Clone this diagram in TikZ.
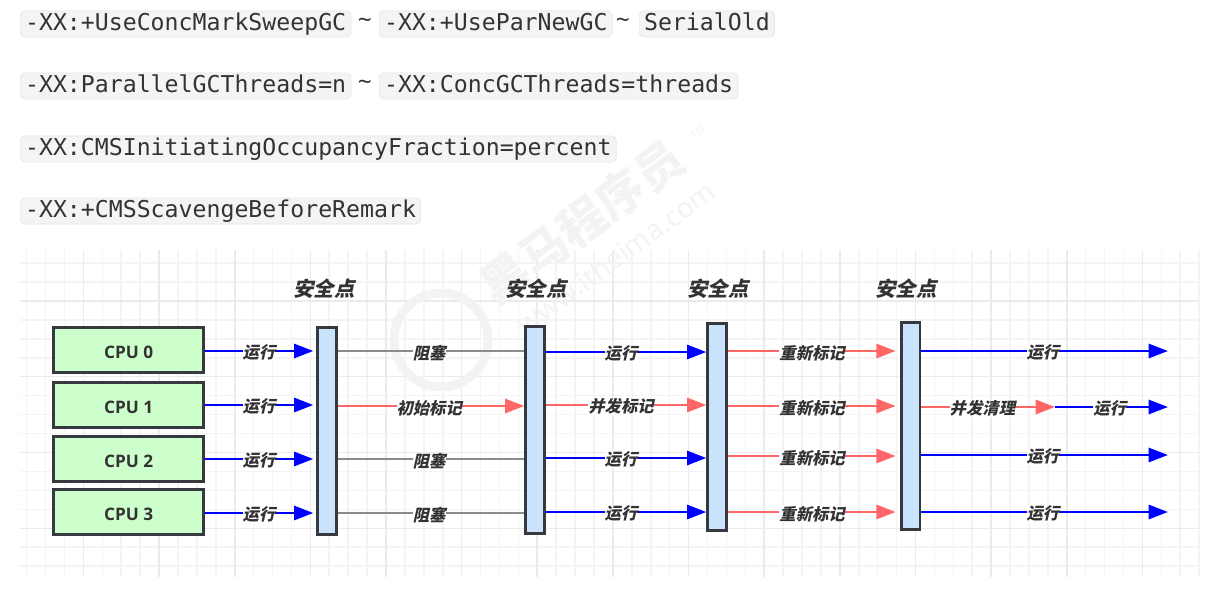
\documentclass[tikz,border=0pt]{standalone}
\usepackage{fontspec}
\usetikzlibrary{arrows.meta}
\setmonofont{DejaVu Sans Mono}
\newfontfamily\cjkfont[FakeSlant=0.22]{Noto Sans CJK SC}
\newfontfamily\markfont{Noto Sans CJK SC}
\newfontfamily\cpufont{Open Sans}
\newfontfamily\tildefont{Noto Sans}
\definecolor{codefill}{HTML}{F3F4F4}
\definecolor{codeline}{HTML}{E4E7EA}
\definecolor{codetext}{HTML}{333333}
\definecolor{gridminor}{HTML}{F4F4F4}
\definecolor{gridmajor}{HTML}{EBEBEB}
\definecolor{cpufill}{HTML}{CCFFCC}
\definecolor{barfill}{HTML}{C9E3FD}
\definecolor{boxline}{HTML}{36393D}
\definecolor{markline}{HTML}{FF6666}
\definecolor{stopline}{HTML}{8C8C8C}
\definecolor{wmark}{HTML}{F3F3F3}
\tikzset{
	codebox/.style={draw=codeline, fill=codefill, rounded corners=2.5pt, anchor=west, text=codetext, inner xsep=2.7pt, inner ysep=0.9pt, text height=10pt, text depth=3pt, font=\ttfamily\fontsize{13.2}{15}\selectfont},
	sep/.style={text=codetext, font=\tildefont\fontsize{14}{16}\selectfont},
	cpubox/.style={draw=boxline, fill=cpufill, line width=1.6pt, minimum width=85.5pt, minimum height=25.5pt, inner sep=0pt, text height=9.5pt, text depth=0pt, text=codetext, font=\cpufont\bfseries\fontsize{9.8}{11}\selectfont},
	barbox/.style={draw=boxline, fill=barfill, line width=1.6pt, minimum width=10.5pt, minimum height=118pt, inner sep=0pt},
	pointname/.style={text=codetext, font=\cjkfont\bfseries\fontsize{11.6}{13}\selectfont},
	lab/.style={fill=white, inner sep=0pt, text=codetext, xshift=-1pt, yshift=-1pt, font=\cjkfont\bfseries\fontsize{9.3}{11}\selectfont},
	run/.style={draw=blue, line width=1.6pt, -{Triangle[length=11pt,width=8pt]}},
	remark/.style={draw=markline, line width=1.6pt, -{Triangle[length=11pt,width=8pt]}},
	stopped/.style={draw=stopline, line width=1.6pt},
	gridthin/.style={draw=gridminor, line width=0.9pt},
	gridthick/.style={draw=gridmajor, line width=0.9pt},
}
\begin{document}
\begin{tikzpicture}[x=0.02cm, y=-0.02cm]
	\useasboundingbox (0,0) rectangle (1216,588);
	% options
	\node[codebox] (opt1) at (20,24) {-XX:+UseConcMarkSweepGC};
	\node[sep] (sep1) at (365,23) {\textasciitilde};
	\node[codebox] (opt2) at (379,24) {-XX:+UseParNewGC};
	\node[sep] (sep2) at (623,23) {\textasciitilde};
	\node[codebox] (opt3) at (639,24) {SerialOld};
	\node[codebox] (opt4) at (20,86) {-XX:ParallelGCThreads=n};
	\node[sep] (sep3) at (365,85) {\textasciitilde};
	\node[codebox] (opt5) at (379,86) {-XX:ConcGCThreads=threads};
	\node[codebox] (opt6) at (20,149) {-XX:CMSInitiatingOccupancyFraction=percent};
	\node[codebox] (opt7) at (20,211) {-XX:+CMSScavengeBeforeRemark};
	% grid
	\foreach \i in {0,...,62}
		\draw[gridthin] ({26.7+18.91*\i},250) -- ({26.7+18.91*\i},577);
	\foreach \i in {0,...,16}
		\draw[gridthin] (20,{263+18.95*\i}) -- (1199,{263+18.95*\i});
	\foreach \i in {3,7,...,59}
		\draw[gridthick] ({26.7+18.91*\i},250) -- ({26.7+18.91*\i},577);
	\foreach \i in {2,6,10,14}
		\draw[gridthick] (20,{263+18.95*\i}) -- (1199,{263+18.95*\i});
	% watermark
	\draw[wmark, line width=5pt] (441,340) circle (47);
	\node[rotate=36, text=wmark, font=\markfont\bfseries\fontsize{27}{29}\selectfont] (wm1) at (582,222) {黑马程序员};
	\node[rotate=36, text=wmark, font=\markfont\fontsize{6}{7}\selectfont] (wm2) at (698,133) {TM};
	\node[rotate=36, text=wmark, font=\tildefont\fontsize{16}{18}\selectfont] (wm3) at (616,257) {www.itheima.com};
	% cpu and safepoints
	\node[cpubox] (cpu0) at (128.7,350) {CPU 0};
	\node[cpubox] (cpu1) at (128.7,404.7) {CPU 1};
	\node[cpubox] (cpu2) at (128.7,459) {CPU 2};
	\node[cpubox] (cpu3) at (128.7,512.3) {CPU 3};
	\node[barbox] (bar0) at (327,431) {};
	\node[barbox] (bar1) at (535,430) {};
	\node[barbox] (bar2) at (717,427) {};
	\node[barbox] (bar3) at (910.7,426) {};
	\node[pointname] (name0) at (324,289) {安全点};
	\node[pointname] (name1) at (536,289) {安全点};
	\node[pointname] (name2) at (718,289) {安全点};
	\node[pointname] (name3) at (906,289) {安全点};
	% heights of the rows
	\coordinate (a0) at (0,351); \coordinate (a1) at (0,405); \coordinate (a2) at (0,459); \coordinate (a3) at (0,513);
	\coordinate (b0) at (0,351); \coordinate (b1) at (0,406); \coordinate (b2) at (0,459); \coordinate (b3) at (0,513);
	\coordinate (c0) at (0,352); \coordinate (c1) at (0,405); \coordinate (c2) at (0,458); \coordinate (c3) at (0,512);
	\coordinate (d0) at (0,351); \coordinate (d1) at (0,406); \coordinate (d2) at (0,456); \coordinate (d3) at (0,512);
	% free ends
	\coordinate (end0) at (1168,351);
	\coordinate (end1) at (1168,407);
	\coordinate (end2) at (1168,455);
	\coordinate (end3) at (1168,512);
	\coordinate (mid1) at (1055,407);
	% first stage
	\draw[run, shorten >=1.7pt] (cpu0.east |- a0) -- (bar0.west |- a0) node[lab, midway] (l00) {运行};
	\draw[run, shorten >=1.7pt] (cpu1.east |- a1) -- (bar0.west |- a1) node[lab, midway] (l01) {运行};
	\draw[run, shorten >=1.7pt] (cpu2.east |- a2) -- (bar0.west |- a2) node[lab, midway] (l02) {运行};
	\draw[run, shorten >=1.7pt] (cpu3.east |- a3) -- (bar0.west |- a3) node[lab, midway] (l03) {运行};
	% second stage
	\draw[stopped] (bar0.east |- b0) -- (bar1.west |- b0) node[lab, midway] (l10) {阻塞};
	\draw[remark] (bar0.east |- b1) -- (bar1.west |- b1) node[lab, midway] (l11) {初始标记};
	\draw[stopped] (bar0.east |- b2) -- (bar1.west |- b2) node[lab, midway] (l12) {阻塞};
	\draw[stopped] (bar0.east |- b3) -- (bar1.west |- b3) node[lab, midway] (l13) {阻塞};
	% third stage
	\draw[run] (bar1.east |- c0) -- (bar2.west |- c0) node[lab, pos=.48] (l20) {运行};
	\draw[remark] (bar1.east |- c1) -- (bar2.west |- c1) node[lab, pos=.48] (l21) {并发标记};
	\draw[run] (bar1.east |- c2) -- (bar2.west |- c2) node[lab, pos=.48] (l22) {运行};
	\draw[run] (bar1.east |- c3) -- (bar2.west |- c3) node[lab, pos=.48] (l23) {运行};
	% fourth stage
	\draw[remark, shorten >=2.5pt] (bar2.east |- d0) -- (bar3.west |- d0) node[lab, midway] (l30) {重新标记};
	\draw[remark, shorten >=2.5pt] (bar2.east |- d1) -- (bar3.west |- d1) node[lab, midway] (l31) {重新标记};
	\draw[remark, shorten >=2.5pt] (bar2.east |- d2) -- (bar3.west |- d2) node[lab, midway] (l32) {重新标记};
	\draw[remark, shorten >=2.5pt] (bar2.east |- d3) -- (bar3.west |- d3) node[lab, midway] (l33) {重新标记};
	% last stage
	\draw[run] (bar3.east |- end0) -- (end0) node[lab, midway] (l40) {运行};
	\draw[remark] (bar3.east |- mid1) -- (mid1) node[lab, pos=.47] (l41) {并发清理};
	\draw[run] (mid1) -- (end1) node[lab, midway] (l44) {运行};
	\draw[run] (bar3.east |- end2) -- (end2) node[lab, midway] (l42) {运行};
	\draw[run] (bar3.east |- end3) -- (end3) node[lab, midway] (l43) {运行};
\end{tikzpicture}
\end{document}
